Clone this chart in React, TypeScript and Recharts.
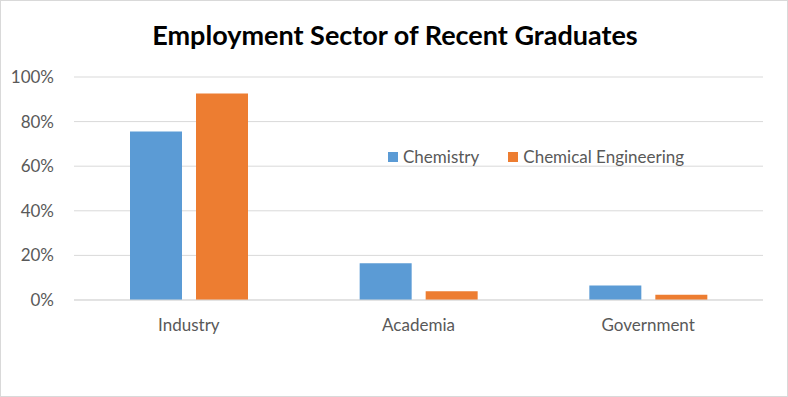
import { BarChart, Bar, XAxis, YAxis, CartesianGrid } from 'recharts';

// Share of graduates by employment sector (%)
const sectors = ['Industry', 'Academia', 'Government'];
const chemistry = [75.6, 16.5, 6.5];
const chemicalEngineering = [92.6, 3.9, 2.4];
const yTicks = [0, 20, 40, 60, 80, 100];

const seriesNames = ['Chemistry', 'Chemical Engineering'];
const seriesColors = ['#5b9bd5', '#ed7d31'];

const data = sectors.map((sector, i) => ({
  sector,
  chemistry: chemistry[i],
  chemEng: chemicalEngineering[i],
}));

const font = 'Lato, "Liberation Sans", sans-serif';

const App = () => {
  return (
    <div
      style={{
        position: 'absolute',
        left: 0,
        top: 0,
        width: 788,
        height: 397,
        boxSizing: 'border-box',
        border: '1px solid #d9d9d9',
        background: '#fff',
        fontFamily: font,
      }}
    >
      <div style={{ position: 'absolute', left: -1, top: -1 }}>
        <BarChart
          width={788}
          height={397}
          data={data}
          margin={{ top: 77, right: 25, bottom: 67, left: 0 }}
          barSize={52}
          barGap={14}
        >
          <CartesianGrid vertical={false} stroke="#d9d9d9" />
          <XAxis
            dataKey="sector"
            axisLine={{ stroke: '#d9d9d9' }}
            tickLine={false}
            tickMargin={13}
            tick={{ fill: '#595959', fontSize: 17, fontFamily: font }}
          />
          <YAxis
            width={74}
            domain={[0, 100]}
            ticks={yTicks}
            tickFormatter={(v) => `${v}%`}
            axisLine={false}
            tickLine={false}
            tickMargin={14}
            tick={{ fill: '#595959', fontSize: 17, fontFamily: font }}
          />
          <Bar dataKey="chemistry" name={seriesNames[0]} fill={seriesColors[0]} isAnimationActive={false} />
          <Bar dataKey="chemEng" name={seriesNames[1]} fill={seriesColors[1]} isAnimationActive={false} />
        </BarChart>
      </div>
      <div
        style={{
          position: 'absolute',
          left: 0,
          top: 17,
          width: 788,
          textAlign: 'center',
          fontSize: 27,
          fontWeight: 'bold',
          color: '#000',
        }}
      >
        Employment Sector of Recent Graduates
      </div>
      <div
        style={{
          position: 'absolute',
          left: 387,
          top: 146,
          display: 'flex',
          fontSize: 17,
          color: '#595959',
          lineHeight: '20px',
        }}
      >
        {seriesNames.map((name, i) => (
          <div key={name} style={{ display: 'flex', alignItems: 'center', marginRight: 29 }}>
            <span style={{ width: 10, height: 10, background: seriesColors[i], marginRight: 5 }} />
            {name}
          </div>
        ))}
      </div>
    </div>
  );
};

export default App;
